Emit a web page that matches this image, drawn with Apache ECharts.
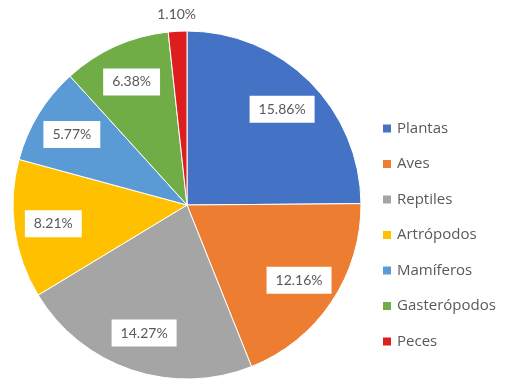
<!DOCTYPE html>
<html>
<head>
<meta charset="utf-8">
<script src="https://cdn.jsdelivr.net/npm/echarts@6/dist/echarts.min.js"></script>
<style>
  html, body { margin: 0; padding: 0; background: #fff; }
  #chart { width: 506px; height: 387px; }
</style>
</head>
<body>
<div id="chart"></div>
<script>
// Share of species per group (percent)
const categories = ['Plantas', 'Aves', 'Reptiles', 'Artrópodos', 'Mamíferos', 'Gasterópodos', 'Peces'];
const shares = [15.86, 12.16, 14.27, 8.21, 5.77, 6.38, 1.10];
const colors = ['#4472C4', '#ED7D31', '#A5A5A5', '#FFC000', '#5B9BD5', '#70AD47', '#DC1E1E'];

const total = shares.reduce((a, b) => a + b, 0);
const isThin = i => shares[i] / total < 0.03;
const center = [187, 205];
const radius = 174;
const outsideGap = 17;
const textColor = '#595959';
const labelFont = 'Lato, "Open Sans", sans-serif';
const legendFont = '"Open Sans", Lato, sans-serif';

// Mid-angle of slice i (radians, clockwise from 12 o'clock)
function midAngle(i) {
  let before = 0;
  for (let k = 0; k < i; k++) before += shares[k];
  return ((before + shares[i] / 2) / total) * Math.PI * 2;
}

const sliceData = categories.map((name, i) => ({
  name: name,
  value: shares[i],
  itemStyle: { color: colors[i] }
}));

// Transparent ring carrying the value boxes, so they sit out toward the rim;
// very thin slices get a plain label just outside the pie instead.
const labelData = categories.map((name, i) => ({
  name: name,
  value: shares[i],
  itemStyle: { color: 'rgba(0,0,0,0)' },
  label: isThin(i) ? { backgroundColor: 'transparent', padding: 0 } : {}
}));

const chart = echarts.init(document.getElementById('chart'), null, { renderer: 'canvas' });
chart.setOption({
  animation: false,
  color: colors,
  legend: {
    orient: 'vertical',
    left: 381,
    top: 121,
    padding: 0,
    icon: 'rect',
    itemWidth: 10,
    itemHeight: 10,
    itemGap: 20.5,
    data: categories,
    textStyle: { color: textColor, fontSize: 15, fontFamily: legendFont }
  },
  series: [
    {
      type: 'pie',
      center: center,
      radius: radius,
      startAngle: 90,
      clockwise: true,
      silent: true,
      data: sliceData,
      itemStyle: { borderColor: '#ffffff', borderWidth: 1 },
      label: { show: false },
      labelLine: { show: false }
    },
    {
      type: 'pie',
      center: center,
      radius: [90, radius],
      startAngle: 90,
      clockwise: true,
      silent: true,
      legendHoverLink: false,
      data: labelData,
      label: {
        show: true,
        position: 'inside',
        formatter: p => p.value.toFixed(2) + '%',
        color: textColor,
        fontSize: 14,
        fontFamily: labelFont,
        backgroundColor: '#ffffff',
        padding: [7, 9, 6, 9]
      },
      labelLine: { show: false },
      // labels of thin slices go just beyond the rim, centred on the slice
      labelLayout: p => {
        if (!isThin(p.dataIndex)) return {};
        const a = midAngle(p.dataIndex);
        const d = radius + outsideGap;
        return {
          x: center[0] + d * Math.sin(a),
          y: center[1] - d * Math.cos(a),
          align: 'center',
          verticalAlign: 'middle'
        };
      }
    }
  ]
});
</script>
</body>
</html>
